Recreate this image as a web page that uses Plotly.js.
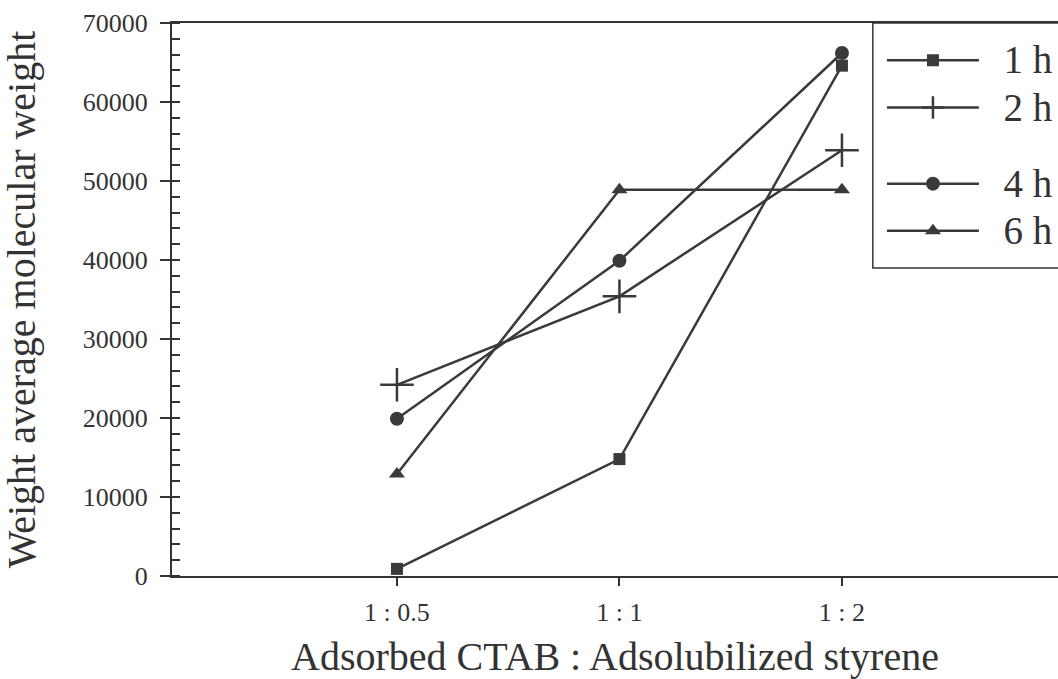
<!DOCTYPE html>
<html>
<head>
<meta charset="utf-8">
<script src="https://cdn.plot.ly/plotly-3.0.1.min.js"></script>
<style>
html,body{margin:0;padding:0;background:#fff;overflow:hidden;}
#chart{width:1068px;height:690px;margin-left:-10px;}
</style>
</head>
<body>
<div id="chart"></div>
<script>
const categories = ["1 : 0.5", "1 : 1", "1 : 2"];
const seriesNames = ["1 h", "2 h", "4 h", "6 h"];
const values1h = [900, 14800, 64600];
const values2h = [24200, 35400, 53900];
const values4h = [19900, 39900, 66200];
const values6h = [12900, 48900, 48900];
const yTickValues = [0, 10000, 20000, 30000, 40000, 50000, 60000, 70000];

const lineColor = "#3a3a3a";
const font = "Liberation Serif, Times New Roman, serif";

function series(name, y, symbol, size, group, extra) {
  const marker = Object.assign({symbol: symbol, size: size, color: lineColor}, extra || {});
  return {
    type: "scatter", mode: "lines+markers",
    name: '<span style="font-size:39px">&nbsp;&nbsp;' + name + '</span>',
    x: categories, y: y, legendgroup: group,
    line: {color: lineColor, width: 2.5},
    marker: marker
  };
}

const data = [
  series(seriesNames[0], values1h, "square", 12, "a"),
  series(seriesNames[1], values2h, "cross-thin", 24, "a", {line: {color: lineColor, width: 2.5}}),
  series(seriesNames[2], values4h, "circle", 14, "b"),
  series(seriesNames[3], values6h, "triangle-up", 14, "b")
];

const layout = {
  width: 1068, height: 690,
  margin: {l: 182, r: 0, t: 23, b: 114},
  paper_bgcolor: "#fff", plot_bgcolor: "#fff",
  font: {family: font, color: "#333"},
  showlegend: true,
  legend: {
    x: 0.8013, xanchor: "left", y: 0.9844, yanchor: "top",
    borderwidth: 0, bgcolor: "rgba(0,0,0,0)",
    font: {family: font, size: 34, color: "#333"},
    traceorder: "grouped", tracegroupgap: 29, itemwidth: 92
  },
  shapes: [{
    type: "rect", xref: "paper", yref: "paper",
    x0: 0.791, x1: 1.1, y0: 0.557, y1: 1,
    line: {color: "#333", width: 1.5}, fillcolor: "#fff", layer: "above"
  }],
  xaxis: {
    type: "category",
    range: [-1.011, 2.971],
    showline: true, linecolor: "#333", linewidth: 2, mirror: true,
    showgrid: false, zeroline: false,
    ticks: "outside", ticklen: 8, tickwidth: 2, tickcolor: "#333",
    tickfont: {family: font, size: 26, color: "#333"},
    ticklabelstandoff: 4,
    title: {text: "Adsorbed CTAB : Adsolubilized styrene", font: {family: font, size: 40, color: "#333"}, standoff: 16}
  },
  yaxis: {
    range: [0, 70000],
    tickvals: yTickValues, ticktext: yTickValues.map(String),
    showline: true, linecolor: "#333", linewidth: 2, mirror: false,
    showgrid: false, zeroline: false,
    ticks: "outside", ticklen: 10, tickwidth: 2, tickcolor: "#333",
    minor: {ticks: "inside", dtick: 2000, ticklen: 8, tickwidth: 2, tickcolor: "#333", showgrid: false},
    tickfont: {family: font, size: 26, color: "#333"},
    ticklabelstandoff: 7,
    title: {text: "Weight average molecular weight", font: {family: font, size: 40, color: "#333"}, standoff: 34.5}
  }
};

Plotly.newPlot("chart", data, layout, {displayModeBar: false, staticPlot: true});
</script>
</body>
</html>
